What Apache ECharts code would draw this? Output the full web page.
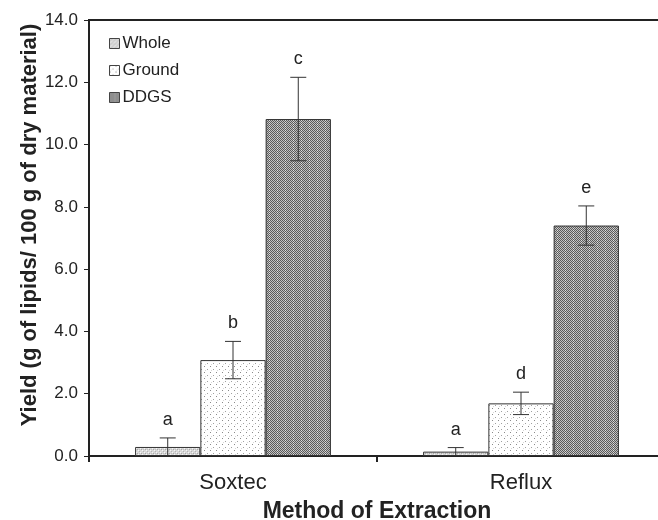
<!DOCTYPE html>
<html><head><meta charset="utf-8">
<script src="https://cdn.jsdelivr.net/npm/echarts@6/dist/echarts.min.js"></script>
<style>html,body{margin:0;padding:0;background:#fff}#c{width:658px;height:520px}</style>
</head><body><div id="c"></div>
<script>
var categories = ['Soxtec', 'Reflux'];
var seriesNames = ['Whole', 'Ground', 'DDGS'];
var wholeValues = [0.29, 0.14];
var groundValues = [3.08, 1.69];
var ddgsValues = [10.82, 7.40];
var wholeErrors = [0.29, 0.13];
var groundErrors = [0.6, 0.36];
var ddgsErrors = [1.34, 0.63];
var wholeLetters = ['a', 'a'];
var groundLetters = ['b', 'd'];
var ddgsLetters = ['c', 'e'];

function makePattern(size, bg, pixels) {
  var cv = document.createElement('canvas');
  cv.width = size; cv.height = size;
  var ctx = cv.getContext('2d');
  ctx.fillStyle = bg; ctx.fillRect(0, 0, size, size);
  pixels.forEach(function (p) { ctx.fillStyle = p[2]; ctx.fillRect(p[0], p[1], 1, 1); });
  return { image: cv, repeat: 'repeat' };
}
var wholePat = makePattern(4, '#d8d8d8', [[0,0,'#f6f6f6'],[2,2,'#f6f6f6'],[1,1,'#a8a8a8'],[3,3,'#b4b4b4'],[3,1,'#c0c0c0']]);
var groundPat = makePattern(6, '#ffffff', [[0,0,'#8a8a8a'],[3,3,'#a0a0a0'],[1,4,'#d8d8d8']]);
var ddgsPix = [];
for (var yy = 0; yy < 8; yy++) for (var xx = 0; xx < 8; xx++) {
  var c = ((xx + yy) % 2 === 0) ? '#5a5a5a' : '#c2c2c2';
  if (xx === 5 && yy % 2 === 0) c = '#e0e0e0';
  ddgsPix.push([xx, yy, c]);
}
var ddgsPat = makePattern(8, '#888', ddgsPix);

var valueSets = [wholeValues, groundValues, ddgsValues];
var errorSets = [wholeErrors, groundErrors, ddgsErrors];
var letterSets = [wholeLetters, groundLetters, ddgsLetters];
var patterns = [wholePat, groundPat, ddgsPat];
var catGap = 0.32;
var FONT = '"Liberation Sans", Arial, sans-serif';

var series = [];
seriesNames.forEach(function (n, i) {
  series.push({
    name: n, type: 'bar', data: valueSets[i], barGap: '0%', barCategoryGap: (catGap * 100) + '%',
    itemStyle: { color: patterns[i], borderColor: '#333', borderWidth: 1 }
  });
});
seriesNames.forEach(function (n, i) {
  series.push({
    type: 'custom', silent: true, z: 5,
    data: categories.map(function (c, k) { return [k, valueSets[i][k], errorSets[i][k]]; }),
    renderItem: function (params, api) {
      var k = api.value(0), v = api.value(1), e = api.value(2);
      var catW = api.size([1, 0])[0];
      var bw = catW * (1 - catGap) / 3;
      var off = (i - 1) * bw;
      var top = api.coord([k, v + e]);
      var bot = api.coord([k, Math.max(v - e, 0)]);
      var x = top[0] + off;
      var cap = 8;
      var st = { stroke: '#333', lineWidth: 1 };
      return { type: 'group', children: [
        { type: 'line', shape: { x1: x, y1: top[1], x2: x, y2: bot[1] }, style: st },
        { type: 'line', shape: { x1: x - cap, y1: top[1], x2: x + cap, y2: top[1] }, style: st },
        { type: 'line', shape: { x1: x - cap, y1: bot[1], x2: x + cap, y2: bot[1] }, style: st },
        { type: 'text', x: x, y: top[1] - 18, style: { text: letterSets[i][k], fill: '#222', font: '18px ' + FONT, align: 'center', verticalAlign: 'middle' } }
      ]};
    }
  });
});

var chart = echarts.init(document.getElementById('c'), null, { renderer: 'canvas' });
chart.setOption({
  animation: false,
  textStyle: { fontFamily: FONT, color: '#222' },
  grid: { left: 89, top: 20, width: 576, height: 436, outerBoundsMode: 'none', containLabel: false, show: true, borderColor: '#222', borderWidth: 2, backgroundColor: 'transparent' },
  legend: {
    orient: 'vertical', left: 104, top: 30, itemWidth: 10, itemHeight: 10, itemGap: 10,
    icon: 'rect', data: seriesNames,
    itemStyle: { borderColor: '#444', borderWidth: 1 },
    textStyle: { fontSize: 17, color: '#222', padding: [0, 0, 0, -2] }
  },
  xAxis: {
    type: 'category', data: categories,
    name: 'Method of Extraction', nameLocation: 'middle', nameGap: 44, nameMoveOverlap: false,
    nameTextStyle: { fontSize: 23, fontWeight: 'bold', color: '#222' },
    axisLine: { lineStyle: { color: '#222', width: 2 } },
    axisTick: { show: true, length: 6, lineStyle: { color: '#222', width: 2 } },
    axisLabel: { fontSize: 22, color: '#222', margin: 16 }
  },
  yAxis: {
    type: 'value', min: 0, max: 14, interval: 2,
    name: 'Yield (g of lipids/ 100 g of dry material)', nameLocation: 'middle', nameGap: 48, nameMoveOverlap: false,
    nameTextStyle: { fontSize: 22, fontWeight: 'bold', color: '#222', padding: [0, 0, 0, 26] },
    axisLine: { show: true, lineStyle: { color: '#222', width: 2 } },
    axisTick: { show: true, length: 5, lineStyle: { color: '#222' } },
    splitLine: { show: false },
    axisLabel: { fontSize: 17, color: '#222', margin: 11, formatter: function (v) { return v.toFixed(1); } }
  },
  series: series
});
</script></body></html>
